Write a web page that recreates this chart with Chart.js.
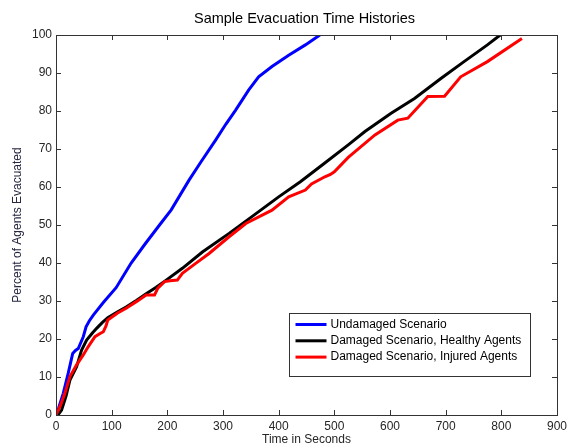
<!DOCTYPE html>
<html>
<head>
<meta charset="utf-8">
<script src="https://cdn.jsdelivr.net/npm/chart.js@4.4.1/dist/chart.umd.min.js"></script>
<style>
  html, body { margin: 0; padding: 0; background: #fff; }
  #wrap { width: 571px; height: 446px; }
</style>
</head>
<body>
<div id="wrap"><canvas id="c" width="571" height="446"></canvas></div>
<script>
// Values (time in s, percent evacuated).
const undamagedT = [0, 5, 13, 22, 30, 35, 40, 49, 54, 60, 67, 85, 108, 135, 160,
                    186, 207, 239, 260, 287, 305, 323, 346, 364, 388, 418, 448, 474];
const undamagedY = [0, 2, 5.7, 11, 16.2, 17, 17.5, 20.6, 23.2, 24.8, 26.3, 29.6, 33.5,
                    40, 45, 50, 54, 61.8, 66.5, 72.4, 76.5, 80.3, 85.5, 89,
                    91.7, 94.7, 97.4, 100];

const healthyT = [0, 5, 10, 18, 25, 37, 46, 55, 65, 73, 83, 93, 110, 126, 145, 162,
                  180, 198, 227, 263, 311, 352, 400, 439, 480, 525, 555, 602, 644,
                  692, 733, 775, 798];
const healthyY = [0, 0.3, 1.3, 5, 9.2, 12.7, 17.1, 19.7, 21.5, 22.8, 24.3, 25.6,
                  27.1, 28.4, 30.2, 31.9, 33.6, 35.5, 38.6, 42.9, 47.8, 52.2, 57.4,
                  61.4, 66, 71.1, 74.6, 79.4, 83.3, 88.6, 93, 97.4, 100];

const injuredT = [0, 8, 16, 25, 37, 49, 58, 70, 80, 85, 90, 93, 110, 126, 145, 162,
                  170, 177, 183, 195, 205, 218, 227, 251, 275, 311, 341, 388, 418,
                  448, 459, 483, 493, 500, 525, 573, 614, 632, 668, 698, 727, 775, 837];
const injuredY = [0, 2.5, 5.7, 10.1, 13.2, 15.8, 18, 20.6, 21.5, 21.9, 23.5, 25,
                  26.8, 28.1, 29.9, 31.6, 31.6, 31.6, 33.4, 35.1, 35.3, 35.5, 37.3,
                  39.9, 42.5, 46.9, 50.4, 53.9, 57.4, 59.2, 60.8, 62.7, 63.3, 64,
                  67.8, 73.7, 77.6, 78.1, 83.8, 83.9, 89, 93, 99.1];

const xTicks = {min: 0, max: 900, step: 100};
const yTicks = {min: 0, max: 100, step: 10};

const pts = (ts, ys) => ts.map((t, i) => ({x: t, y: ys[i]}));

const font = 'Arial, "Liberation Sans", sans-serif';
const textColor = '#262626';

// Draws the MATLAB-style box, inward ticks, title and legend.
const axesBox = {
    id: 'axes-box',
    afterDatasetsDraw(chart) {
        const {ctx, chartArea: a, scales: {x, y}} = chart;
        ctx.save();
        ctx.strokeStyle = '#333';
        ctx.lineWidth = 1;
        ctx.beginPath();
        for (const t of x.ticks) {
            const p = Math.round(x.getPixelForValue(t.value)) + 0.5;
            ctx.moveTo(p, a.bottom); ctx.lineTo(p, a.bottom - 5);
            ctx.moveTo(p, a.top); ctx.lineTo(p, a.top + 5);
        }
        for (const t of y.ticks) {
            const p = Math.round(y.getPixelForValue(t.value)) + 0.5;
            ctx.moveTo(a.left, p); ctx.lineTo(a.left + 5, p);
            ctx.moveTo(a.right, p); ctx.lineTo(a.right - 5, p);
        }
        ctx.stroke();
        ctx.strokeRect(Math.round(a.left) + 0.5, Math.round(a.top) + 0.5,
                       Math.round(a.right - a.left), Math.round(a.bottom - a.top));

        // Title over the plot area.
        ctx.fillStyle = '#000';
        ctx.font = `14.5px ${font}`;
        ctx.textAlign = 'center';
        ctx.textBaseline = 'middle';
        ctx.fillText('Sample Evacuation Time Histories', (a.left + a.right) / 2 - 2, 19);

        // Legend.
        const lx = 289.5, ly = 313.5, lw = 241, lh = 63;
        ctx.fillStyle = '#fff';
        ctx.fillRect(lx, ly, lw, lh);
        ctx.strokeStyle = '#333';
        ctx.strokeRect(lx, ly, lw, lh);
        ctx.font = `12px ${font}`;
        ctx.textAlign = 'left';
        chart.data.datasets.forEach((ds, i) => {
            const ry = ly + 11 + i * 16.3;
            ctx.strokeStyle = ds.borderColor;
            ctx.lineWidth = 3;
            ctx.beginPath();
            ctx.moveTo(lx + 6, ry); ctx.lineTo(lx + 37, ry);
            ctx.stroke();
            ctx.fillStyle = '#000';
            ctx.fillText(ds.label, lx + 41, ry);
        });
        ctx.restore();
    },
};

new Chart(document.getElementById('c'), {
    type: 'line',
    data: {
        datasets: [
            {label: 'Undamaged Scenario', data: pts(undamagedT, undamagedY),
             borderColor: '#0000ff', order: 2},
            {label: 'Damaged Scenario, Healthy Agents', data: pts(healthyT, healthyY),
             borderColor: '#000000', order: 1},
            {label: 'Damaged Scenario, Injured Agents', data: pts(injuredT, injuredY),
             borderColor: '#ff0000', order: 0},
        ],
    },
    plugins: [axesBox],
    options: {
        responsive: false,
        animation: false,
        layout: {padding: {top: 35, right: 11, left: 0, bottom: 0}},
        elements: {
            line: {borderWidth: 3, tension: 0, fill: false},
            point: {radius: 0},
        },
        scales: {
            x: {
                type: 'linear', min: xTicks.min, max: xTicks.max,
                afterFit: s => { s.height = 31; },
                grid: {display: false, drawTicks: false},
                border: {display: false},
                ticks: {stepSize: xTicks.step, padding: 4, color: textColor,
                        font: {family: font, size: 12}, maxRotation: 0},
                title: {display: true, text: 'Time in Seconds', color: textColor,
                        font: {family: font, size: 12, lineHeight: 1},
                        padding: {top: 0, bottom: 0}},
            },
            y: {
                type: 'linear', min: yTicks.min, max: yTicks.max,
                afterFit: s => { s.width = 56; },
                grid: {display: false, drawTicks: false},
                border: {display: false},
                ticks: {stepSize: yTicks.step, padding: 4, color: textColor,
                        font: {family: font, size: 12}},
                title: {display: true, text: 'Percent of Agents Evacuated',
                        color: '#262640',
                        font: {family: font, size: 12, lineHeight: 1},
                        padding: {top: 12, bottom: 0}},
            },
        },
        plugins: {
            legend: {display: false},
            title: {display: false},
            tooltip: {enabled: false},
        },
    },
});
</script>
</body>
</html>
